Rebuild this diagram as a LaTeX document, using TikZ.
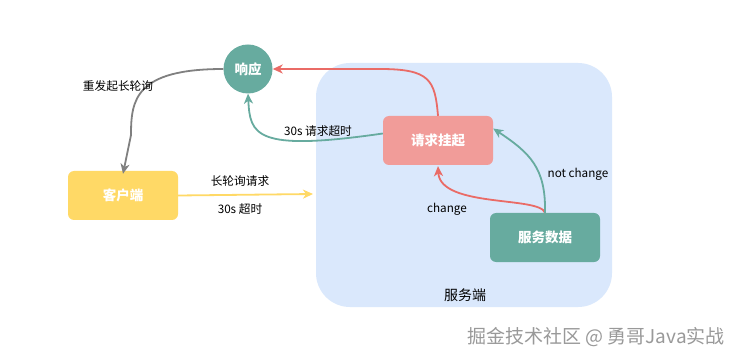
\documentclass[tikz,border=0pt]{standalone}
\usepackage{fontspec}
\setmainfont{Noto Sans CJK SC}
\usepackage{xcolor}
\usetikzlibrary{
    positioning,
    arrows.meta,
    calc,
}
\definecolor{srvblue}{HTML}{DAE8FC}
\definecolor{tealfill}{HTML}{67AB9F}
\definecolor{pinkfill}{HTML}{F19C99}
\definecolor{yellowfill}{HTML}{FFD966}
\definecolor{redline}{HTML}{EA6B66}
\definecolor{grayline}{HTML}{808080}
\tikzset{
    % Node styles
    box/.style={rectangle, rounded corners=6pt, minimum width=110pt,
                minimum height=49pt, inner sep=0pt, align=center,
                text=white, font=\fontsize{13.5}{15}\selectfont\bfseries},
    client box/.style={box, fill=yellowfill},
    pending box/.style={box, fill=pinkfill},
    data box/.style={box, fill=tealfill},
    reply/.style={circle, fill=tealfill, minimum size=49pt, inner sep=0pt,
                  text=white, font=\fontsize{13.5}{15}\selectfont\bfseries},
    region/.style={rectangle, rounded corners=34pt, fill=srvblue},
    % Arrow styles
    arrow/.style={-{Stealth[length=10pt, width=9pt, inset=3pt]}, line width=1.8pt},
    % Annotation styles
    annot/.style={font=\fontsize{11.7}{13}\selectfont, text=black},
}

\begin{document}
\begin{tikzpicture}[x=1pt, y=-1pt]
    \useasboundingbox[fill=white] (0,0) rectangle (754,363);

    % server side
    \path[region] (316,63) rectangle (612,307);
    \node[font=\fontsize{14}{16}\selectfont] (srvlabel) at (465,295) {服务端};

    % nodes
    \node[reply] (resp) at (248,69) {响应};
    \node[client box] (client) at (123,195.5) {客户端};
    \node[pending box] (pending) at (438,140.5) {请求挂起};
    \node[data box] (data) at (545,237.5) {服务数据};
    \coordinate (srventry) at (313,194);

    % long polling request
    \draw[arrow, yellowfill] (client.east) -- (srventry);
    \node[annot] (reqlabel) at (240,181) {长轮询请求};
    \node[annot] (tolabel) at (240,209) {30s 超时};

    % pending -> response
    \draw[arrow, redline] (pending.north) .. controls (435,80) and (430,69) .. (380,69) -- (resp.east);
    \draw[arrow, tealfill] ([yshift=7pt]pending.west) .. controls (255,152) and (250,135) .. (resp.south);
    \node[annot] (timeout) at (318,131) {30s 请求超时};

    % response -> client again
    \draw[arrow, grayline] (resp.west) .. controls (135,69) and (131,100) .. (131,135) -- ([yshift=-3pt]client.north);
    \node[annot] (retry) at (118,86) {重发起长轮询};

    % data -> pending
    \draw[arrow, redline] (data.north) .. controls (540,196) and (440,208) .. ([yshift=-1pt]pending.south);
    \node[annot] (chg) at (447,209) {change};
    \draw[arrow, tealfill] (data.north) .. controls (546,168) and (530,153) .. ([yshift=12pt]pending.east);
    \node[annot] (nochg) at (578,174) {not change};

    % watermark
    \node[font=\fontsize{19}{21}\selectfont, text=gray!80] (mark) at (596,337) {掘金技术社区 @ 勇哥Java实战};
\end{tikzpicture}
\end{document}
